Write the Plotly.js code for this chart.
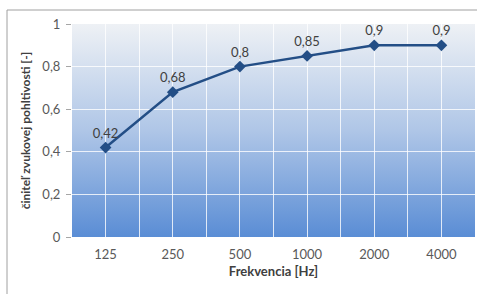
<!DOCTYPE html>
<html>
<head>
<meta charset="utf-8">
<script src="https://cdn.plot.ly/plotly-3.0.1.min.js"></script>
<style>html,body{margin:0;padding:0;background:#fff;}#chart{width:477px;height:294px;}</style>
</head>
<body>
<div id="chart"></div>
<script>
const categories = ['125', '250', '500', '1000', '2000', '4000'];
const values = [0.42, 0.68, 0.8, 0.85, 0.9, 0.9];
const yTicks = [0, 0.2, 0.4, 0.6, 0.8, 1];
const yTickLabels = ['0', '0,2', '0,4', '0,6', '0,8', '1'];
const labels = values.map(v => String(v).replace('.', ','));

const font = 'Lato, "Open Sans", sans-serif';

const gradSvg = '<svg xmlns="http://www.w3.org/2000/svg" width="100" height="100" preserveAspectRatio="none">' +
  '<defs><linearGradient id="g" x1="0" y1="0" x2="0" y2="1">' +
  '<stop offset="0" stop-color="#eef1f5"/>' +
  '<stop offset="0.5" stop-color="#afc6e7"/>' +
  '<stop offset="1" stop-color="#5a8dd5"/>' +
  '</linearGradient></defs><rect width="100" height="100" fill="url(#g)"/></svg>';
const gradUri = 'data:image/svg+xml;base64,' + btoa(gradSvg);

const trace = {
  x: categories,
  y: values,
  type: 'scatter',
  mode: 'lines+markers+text',
  line: {color: '#234e86', width: 2.5},
  marker: {symbol: 'diamond', size: 9, color: '#234e86'},
  text: labels,
  textposition: 'top center',
  textfont: {family: font, size: 13, color: '#404040'},
  cliponaxis: false,
  hoverinfo: 'skip'
};

const gridTrace = {
  x: [-0.5, 5.5],
  y: [0, 0],
  xaxis: 'x2',
  type: 'scatter',
  mode: 'none',
  hoverinfo: 'skip',
  showlegend: false
};

const L = 72, R = 2, T = 24, B = 57;
const pw = 477 - L - R, ph = 294 - T - B;
const fx = (7 - L) / pw;
const fy = 1 + (T - 10) / ph;

const layout = {
  width: 477,
  height: 294,
  margin: {l: L, r: R, t: T, b: B},
  paper_bgcolor: '#ffffff',
  plot_bgcolor: 'rgba(0,0,0,0)',
  showlegend: false,
  separators: ',.',
  font: {family: font, size: 13, color: '#595959'},
  images: [{
    source: gradUri,
    xref: 'paper', yref: 'paper',
    x: 0, y: 1, sizex: 1, sizey: 1,
    sizing: 'stretch', layer: 'below',
    xanchor: 'left', yanchor: 'top'
  }],
  xaxis: {
    type: 'category',
    range: [-0.5, 5.5],
    showgrid: false,
    showline: false,
    zeroline: false,
    ticks: '',
    ticklabelstandoff: 8,
    tickfont: {family: font, size: 13, color: '#595959'},
    title: {text: '<b>Frekvencia [Hz]</b>', font: {family: font, size: 13, color: '#404040'}, standoff: 5}
  },
  xaxis2: {
    overlaying: 'x',
    range: [-0.5, 5.5],
    dtick: 0.5,
    tick0: 0,
    showgrid: true,
    gridcolor: 'rgba(255,255,255,0.8)',
    gridwidth: 1,
    showticklabels: false,
    ticks: '',
    zeroline: false,
    showline: false,
    side: 'bottom'
  },
  yaxis: {
    range: [0, 1],
    tickvals: yTicks,
    ticktext: yTickLabels,
    showgrid: true,
    gridcolor: 'rgba(255,255,255,0.8)',
    gridwidth: 1,
    zeroline: false,
    showline: false,
    ticks: 'outside',
    ticklen: 5,
    tickcolor: '#a6a6a6',
    ticklabelstandoff: 3,
    tickfont: {family: font, size: 13, color: '#595959'},
    title: {text: '<b>činiteľ zvukovej pohltivosti [-]</b>', font: {family: font, size: 12, color: '#404040'}, standoff: 9}
  },
  shapes: [
    {type: 'line', xref: 'paper', yref: 'paper', x0: fx, x1: fx, y0: -1, y1: fy, line: {color: '#a0a0a0', width: 1}},
    {type: 'line', xref: 'paper', yref: 'paper', x0: fx, x1: 1.2, y0: fy, y1: fy, line: {color: '#a0a0a0', width: 1}}
  ]
};

Plotly.newPlot('chart', [gridTrace, trace], layout, {staticPlot: true, displayModeBar: false});
</script>
</body>
</html>
